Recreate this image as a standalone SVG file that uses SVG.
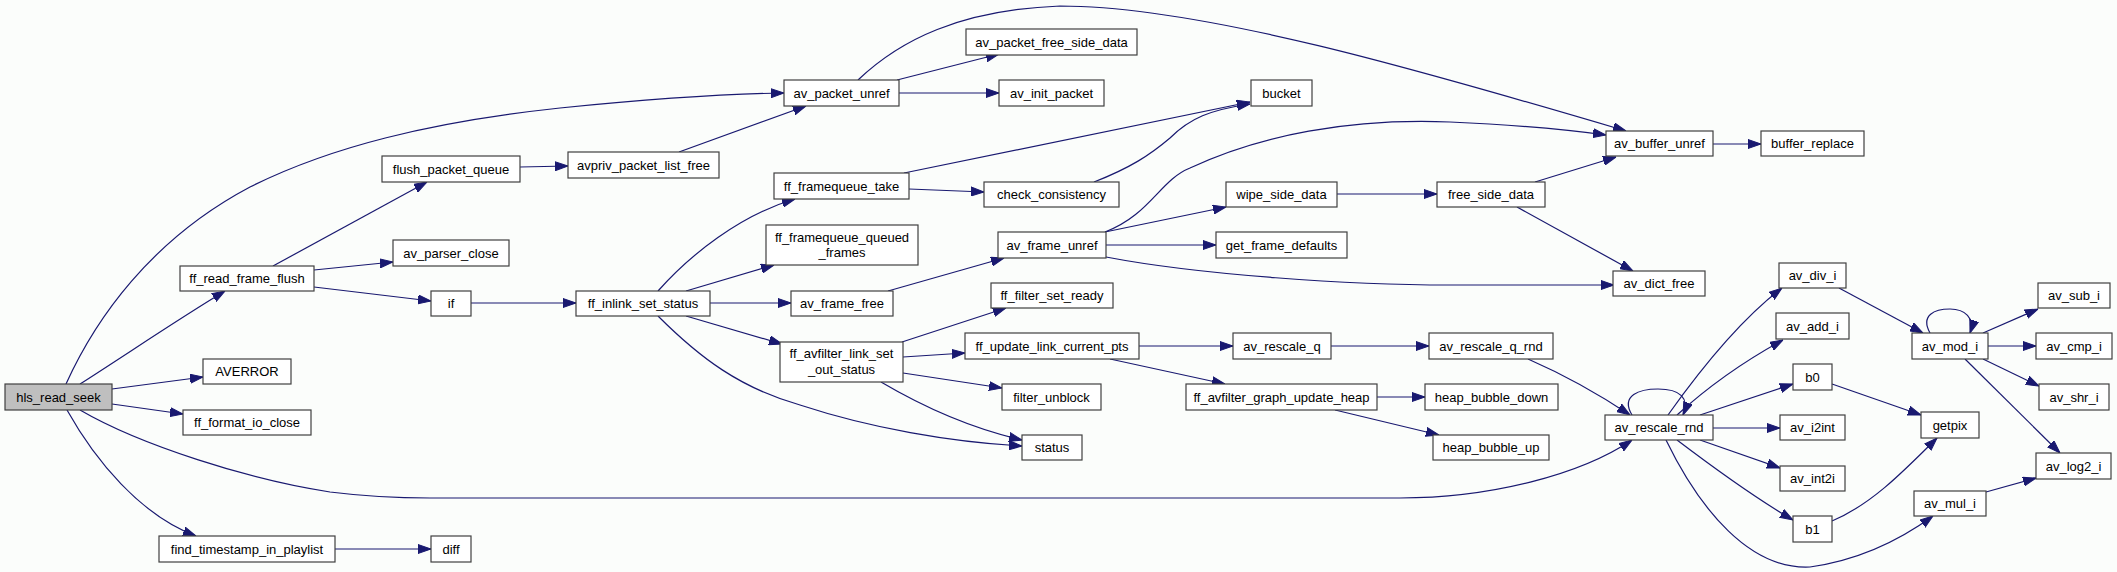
<svg xmlns="http://www.w3.org/2000/svg" width="2117" height="572" viewBox="0 0 2117 572">
<style>
.n rect{fill:#ffffff;stroke:#404040;stroke-width:1.2}
.n.root rect{fill:#bfbfbf}
.n text{font-family:"Liberation Sans",Arial,sans-serif;font-size:13px;fill:#000;text-anchor:middle}
#edges path{fill:none;stroke:#191970;stroke-width:1.2;marker-end:url(#arr)}
</style>
<defs>
<marker id="arr" markerWidth="13" markerHeight="10" refX="13" refY="5" orient="auto" markerUnits="userSpaceOnUse">
<path d="M0,0.5 L13,5 L0,9.5 z" fill="#191970" stroke="#191970" stroke-width="1"/>
</marker>
</defs>
<rect width="2117" height="572" fill="#fbfdfb"/>
<g id="edges">
<path d="M66,384 C95,320 150,240 250,187 C330,147 430,122 560,108 C650,99 720,94 784,93"/>
<path d="M80,384 C130,352 180,318 225,291"/>
<path d="M112,389 L203,377"/>
<path d="M112,404 L183,414"/>
<path d="M80,410 C140,445 250,480 330,492 C370,497 400,498 430,498 L1400,498 C1490,498 1580,475 1632,440"/>
<path d="M67,410 C95,460 140,515 196,536"/>
<path d="M335,549 L431,549"/>
<path d="M273,266 L427,182"/>
<path d="M314,270 L393,262"/>
<path d="M314,287 L431,301"/>
<path d="M520,167 L568,166"/>
<path d="M679,152 L806,106"/>
<path d="M897,80 L999,54"/>
<path d="M899,93 L999,93"/>
<path d="M858,80 C900,40 960,10 1060,6 C1200,6 1420,70 1626,131"/>
<path d="M471,303 L576,303"/>
<path d="M658,291 C690,255 740,215 795,199"/>
<path d="M686,291 L774,265"/>
<path d="M710,303 L791,303"/>
<path d="M686,316 L782,344"/>
<path d="M658,316 C700,358 740,388 800,405 C870,428 950,442 1022,446"/>
<path d="M904,173 L1250,102"/>
<path d="M909,189 L984,192"/>
<path d="M1094,182 C1130,168 1150,155 1170,138 C1190,118 1210,110 1250,104"/>
<path d="M888,291 L1004,258"/>
<path d="M1105,232 C1150,215 1160,180 1190,168 C1260,135 1350,118 1450,122 C1520,125 1570,130 1606,135"/>
<path d="M1105,232 L1226,207"/>
<path d="M1106,245 L1216,245"/>
<path d="M1106,257 C1200,275 1350,285 1450,285 L1614,285"/>
<path d="M1337,194 L1437,194"/>
<path d="M1535,182 L1616,157"/>
<path d="M1517,207 L1633,271"/>
<path d="M1713,144 L1761,144"/>
<path d="M902,342 L1006,308"/>
<path d="M903,357 L965,353"/>
<path d="M903,373 L1002,388"/>
<path d="M881,382 C920,405 970,428 1022,440"/>
<path d="M1139,346 L1233,346"/>
<path d="M1110,359 L1225,384"/>
<path d="M1331,346 L1429,346"/>
<path d="M1528,359 C1560,373 1600,395 1630,415"/>
<path d="M1377,397 L1425,397"/>
<path d="M1335,410 L1439,435"/>
<path d="M1632,415 C1620,395 1640,389 1658,389 C1680,389 1690,398 1683,415"/>
<path d="M1668,415 C1700,370 1740,320 1782,288"/>
<path d="M1677,415 C1710,385 1750,358 1783,340"/>
<path d="M1700,415 L1793,384"/>
<path d="M1713,428 L1780,428"/>
<path d="M1700,440 L1780,468"/>
<path d="M1677,440 C1710,465 1750,495 1793,520"/>
<path d="M1666,440 C1700,510 1750,570 1810,567 C1860,560 1900,540 1933,516"/>
<path d="M1832,384 L1921,415"/>
<path d="M1832,521 C1870,505 1900,475 1937,438"/>
<path d="M1839,288 L1923,333"/>
<path d="M1930,333 C1920,315 1935,309 1950,309 C1965,309 1975,318 1970,333"/>
<path d="M1983,333 L2038,309"/>
<path d="M1988,346 L2036,346"/>
<path d="M1983,359 L2039,386"/>
<path d="M1965,359 L2060,453"/>
<path d="M1986,492 L2036,478"/>
</g>
<g id="hls_read_seek" class="n root"><rect x="5" y="384" width="107" height="26"/><text x="58.5" y="401.5">hls_read_seek</text></g>
<g id="ff_read_frame_flush" class="n"><rect x="180" y="266" width="134" height="25"/><text x="247" y="283">ff_read_frame_flush</text></g>
<g id="flush_packet_queue" class="n"><rect x="382" y="156" width="138" height="26"/><text x="451" y="173.5">flush_packet_queue</text></g>
<g id="av_parser_close" class="n"><rect x="393" y="240" width="116" height="26"/><text x="451" y="257.5">av_parser_close</text></g>
<g id="if" class="n"><rect x="431" y="291" width="40" height="25"/><text x="451" y="308">if</text></g>
<g id="AVERROR" class="n"><rect x="203" y="359" width="88" height="25"/><text x="247" y="376">AVERROR</text></g>
<g id="ff_format_io_close" class="n"><rect x="183" y="410" width="128" height="25"/><text x="247" y="427">ff_format_io_close</text></g>
<g id="find_timestamp_in_playlist" class="n"><rect x="159" y="536" width="176" height="26"/><text x="247" y="553.5">find_timestamp_in_playlist</text></g>
<g id="diff" class="n"><rect x="431" y="536" width="40" height="26"/><text x="451" y="553.5">diff</text></g>
<g id="av_packet_unref" class="n"><rect x="784" y="80" width="115" height="26"/><text x="841.5" y="97.5">av_packet_unref</text></g>
<g id="av_packet_free_side_data" class="n"><rect x="966" y="29" width="171" height="26"/><text x="1051.5" y="46.5">av_packet_free_side_data</text></g>
<g id="av_init_packet" class="n"><rect x="999" y="80" width="105" height="26"/><text x="1051.5" y="97.5">av_init_packet</text></g>
<g id="avpriv_packet_list_free" class="n"><rect x="568" y="152" width="151" height="26"/><text x="643.5" y="169.5">avpriv_packet_list_free</text></g>
<g id="ff_framequeue_take" class="n"><rect x="774" y="173" width="135" height="26"/><text x="841.5" y="190.5">ff_framequeue_take</text></g>
<g id="check_consistency" class="n"><rect x="984" y="182" width="135" height="25"/><text x="1051.5" y="199">check_consistency</text></g>
<g id="ff_framequeue_queued_frames" class="n"><rect x="766" y="225" width="152" height="40"/><text x="842" y="241.5">ff_framequeue_queued</text><text x="842" y="256.5">_frames</text></g>
<g id="av_frame_unref" class="n"><rect x="998" y="232" width="108" height="26"/><text x="1052" y="249.5">av_frame_unref</text></g>
<g id="ff_filter_set_ready" class="n"><rect x="991" y="283" width="122" height="25"/><text x="1052" y="300">ff_filter_set_ready</text></g>
<g id="ff_inlink_set_status" class="n"><rect x="576" y="291" width="134" height="25"/><text x="643" y="308">ff_inlink_set_status</text></g>
<g id="av_frame_free" class="n"><rect x="791" y="291" width="102" height="25"/><text x="842" y="308">av_frame_free</text></g>
<g id="ff_avfilter_link_set_out_status" class="n"><rect x="780" y="342" width="123" height="40"/><text x="841.5" y="358">ff_avfilter_link_set</text><text x="841.5" y="373.5">_out_status</text></g>
<g id="ff_update_link_current_pts" class="n"><rect x="965" y="333" width="174" height="26"/><text x="1052" y="350.5">ff_update_link_current_pts</text></g>
<g id="filter_unblock" class="n"><rect x="1002" y="384" width="99" height="26"/><text x="1051.5" y="401.5">filter_unblock</text></g>
<g id="status" class="n"><rect x="1022" y="435" width="60" height="25"/><text x="1052" y="452">status</text></g>
<g id="bucket" class="n"><rect x="1251" y="80" width="61" height="26"/><text x="1281.5" y="97.5">bucket</text></g>
<g id="wipe_side_data" class="n"><rect x="1226" y="182" width="111" height="25"/><text x="1281.5" y="199">wipe_side_data</text></g>
<g id="get_frame_defaults" class="n"><rect x="1216" y="232" width="131" height="26"/><text x="1281.5" y="249.5">get_frame_defaults</text></g>
<g id="free_side_data" class="n"><rect x="1437" y="182" width="108" height="25"/><text x="1491" y="199">free_side_data</text></g>
<g id="av_buffer_unref" class="n"><rect x="1606" y="131" width="107" height="25"/><text x="1659.5" y="148">av_buffer_unref</text></g>
<g id="buffer_replace" class="n"><rect x="1761" y="131" width="103" height="25"/><text x="1812.5" y="148">buffer_replace</text></g>
<g id="av_dict_free" class="n"><rect x="1613" y="271" width="92" height="25"/><text x="1659" y="288">av_dict_free</text></g>
<g id="av_rescale_q" class="n"><rect x="1233" y="333" width="98" height="26"/><text x="1282" y="350.5">av_rescale_q</text></g>
<g id="av_rescale_q_rnd" class="n"><rect x="1429" y="333" width="124" height="26"/><text x="1491" y="350.5">av_rescale_q_rnd</text></g>
<g id="ff_avfilter_graph_update_heap" class="n"><rect x="1186" y="384" width="191" height="26"/><text x="1281.5" y="401.5">ff_avfilter_graph_update_heap</text></g>
<g id="heap_bubble_down" class="n"><rect x="1425" y="384" width="133" height="26"/><text x="1491.5" y="401.5">heap_bubble_down</text></g>
<g id="heap_bubble_up" class="n"><rect x="1433" y="435" width="116" height="25"/><text x="1491" y="452">heap_bubble_up</text></g>
<g id="av_rescale_rnd" class="n"><rect x="1605" y="415" width="108" height="25"/><text x="1659" y="432">av_rescale_rnd</text></g>
<g id="av_div_i" class="n"><rect x="1779" y="263" width="67" height="25"/><text x="1812.5" y="280">av_div_i</text></g>
<g id="av_add_i" class="n"><rect x="1776" y="313" width="73" height="26"/><text x="1812.5" y="330.5">av_add_i</text></g>
<g id="b0" class="n"><rect x="1793" y="364" width="39" height="26"/><text x="1812.5" y="381.5">b0</text></g>
<g id="av_i2int" class="n"><rect x="1780" y="415" width="65" height="25"/><text x="1812.5" y="432">av_i2int</text></g>
<g id="av_int2i" class="n"><rect x="1780" y="466" width="65" height="25"/><text x="1812.5" y="483">av_int2i</text></g>
<g id="b1" class="n"><rect x="1793" y="516" width="39" height="26"/><text x="1812.5" y="533.5">b1</text></g>
<g id="getpix" class="n"><rect x="1921" y="412" width="58" height="26"/><text x="1950" y="429.5">getpix</text></g>
<g id="av_mod_i" class="n"><rect x="1912" y="333" width="76" height="26"/><text x="1950" y="350.5">av_mod_i</text></g>
<g id="av_mul_i" class="n"><rect x="1914" y="491" width="72" height="25"/><text x="1950" y="508">av_mul_i</text></g>
<g id="av_sub_i" class="n"><rect x="2038" y="283" width="72" height="25"/><text x="2074" y="300">av_sub_i</text></g>
<g id="av_cmp_i" class="n"><rect x="2036" y="333" width="76" height="26"/><text x="2074" y="350.5">av_cmp_i</text></g>
<g id="av_shr_i" class="n"><rect x="2039" y="384" width="70" height="26"/><text x="2074" y="401.5">av_shr_i</text></g>
<g id="av_log2_i" class="n"><rect x="2036" y="453" width="75" height="26"/><text x="2073.5" y="470.5">av_log2_i</text></g>
</svg>
